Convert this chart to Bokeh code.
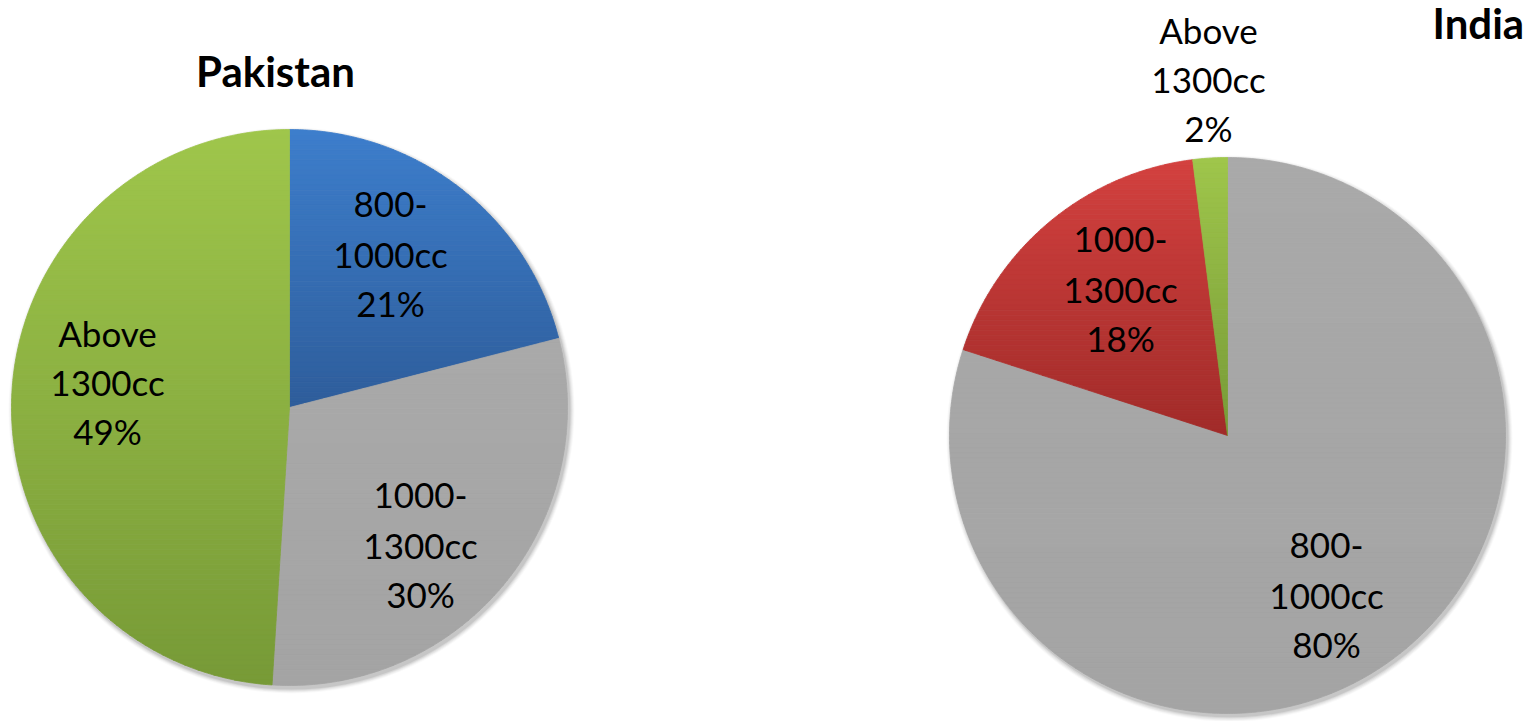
import numpy as np
from bokeh.plotting import figure
from bokeh.models import Range1d, ColumnDataSource
from bokeh.core.properties import value
from bokeh.embed import file_html
from bokeh.resources import INLINE

# Share of car sales by engine size
pakistan_categories = ["800-1000cc", "1000-1300cc", "Above 1300cc"]
pakistan_share = [21, 30, 49]
india_categories = ["800-1000cc", "1000-1300cc", "Above 1300cc"]
india_share = [80, 18, 2]

# label text split over lines: category head, category tail
label_lines = {
    "800-1000cc": ["800-", "1000cc"],
    "1000-1300cc": ["1000-", "1300cc"],
    "Above 1300cc": ["Above", "1300cc"],
}

# slice fills as (top, bottom) of a vertical gradient
BLUE = ("#3d7ecc", "#2e5d9b")
GREY = ("#a9a9a9", "#a4a4a4")
GREEN = ("#9fc64b", "#779a37")
RED = ("#d3413f", "#a12b29")

W, H = 1535, 721
FONT = "Lato"

charts = [
    dict(title="Pakistan", cats=pakistan_categories, vals=pakistan_share,
         fills=[BLUE, GREY, GREEN], cx=289, cy=407, r=278,
         title_xy=(275, 70), title_align="center",
         label_xy=[(390, 253), (420, 544), (107, 381)]),
    dict(title="India", cats=india_categories, vals=india_share,
         fills=[GREY, RED, GREEN], cx=1227, cy=435, r=278,
         title_xy=(1432, 22), title_align="left",
         label_xy=[(1326, 594), (1120, 288), (1208, 78)]),
]


def hex_rgb(h):
    h = h.lstrip("#")
    return np.array([int(h[i:i + 2], 16) for i in (0, 2, 4)], dtype=float)


def mix(c0, c1, t):
    c = hex_rgb(c0) * (1 - t) + hex_rgb(c1) * t
    return "#%02x%02x%02x" % tuple(int(round(v)) for v in c)


def wedge_points(cx, cy, r, a0, a1):
    # angles in degrees, clockwise from 12 o'clock; screen y grows downward
    n = max(4, int(abs(a1 - a0) * 2))
    th = np.radians(np.linspace(a0, a1, n))
    pts = [(cx, cy)] + [(cx + r * np.sin(t), cy - r * np.cos(t)) for t in th]
    return pts


def clip_half(poly, lim, keep_ge):
    out = []
    n = len(poly)
    for i in range(n):
        cur, prev = poly[i], poly[i - 1]
        cin = cur[1] >= lim if keep_ge else cur[1] <= lim
        pin = prev[1] >= lim if keep_ge else prev[1] <= lim
        if cin != pin:
            t = (lim - prev[1]) / (cur[1] - prev[1])
            out.append((prev[0] + t * (cur[0] - prev[0]), lim))
        if cin:
            out.append(cur)
    return out


p = figure(width=W, height=H, x_range=Range1d(0, W), y_range=Range1d(H, 0),
           output_backend="svg", toolbar_location=None,
           x_axis_location=None, y_axis_location=None, min_border=0)
p.grid.visible = False
p.outline_line_color = None
p.background_fill_color = "white"
p.border_fill_color = "white"

for ch in charts:
    cx, cy, r = ch["cx"], ch["cy"], ch["r"]

    # soft drop shadow below the pie
    for k, a in zip([5, 4, 3, 2, 1], [0.025, 0.035, 0.045, 0.06, 0.08]):
        p.circle(x=[cx + 2], y=[cy + 3], radius=r + k, fill_color="black",
                 fill_alpha=a, line_color=None)

    total = float(sum(ch["vals"]))
    start = 0.0
    xs, ys, cols = [], [], []
    for v, (top, bot) in zip(ch["vals"], ch["fills"]):
        span = 360.0 * v / total
        poly = wedge_points(cx, cy, r, start, start + span)
        start += span
        y_min = min(q[1] for q in poly)
        y_max = max(q[1] for q in poly)
        nb = max(8, int((y_max - y_min) / 5))
        edges = np.linspace(y_min, y_max, nb + 1)
        for i in range(nb):
            band = clip_half(poly, edges[i], True)
            band = clip_half(band, edges[i + 1], False) if band else band
            if len(band) < 3:
                continue
            t = (0.5 * (edges[i] + edges[i + 1]) - y_min) / (y_max - y_min)
            xs.append([q[0] for q in band])
            ys.append([q[1] for q in band])
            cols.append(mix(top, bot, t))
    src = ColumnDataSource(dict(xs=xs, ys=ys, c=cols))
    p.patches("xs", "ys", source=src, fill_color="c", line_color="c",
              line_width=0.8)

    # data labels: category over two lines, then the percentage
    tx, ty, tt = [], [], []
    for cat, v, (lx, ly) in zip(ch["cats"], ch["vals"], ch["label_xy"]):
        lines = label_lines[cat] + ["%d%%" % v]
        for j, s in enumerate(lines):
            tx.append(lx)
            ty.append(ly + (j - 1) * 49)
            tt.append(s)
    p.text(x=tx, y=ty, text=tt, text_font=value(FONT), text_font_size="35px",
           text_align="center", text_baseline="alphabetic", text_color="black")

    p.text(x=[ch["title_xy"][0]], y=[ch["title_xy"][1]], text=[ch["title"]],
           text_font=value(FONT), text_font_style="bold",
           text_font_size="42px", text_align=ch["title_align"],
           text_baseline="alphabetic", text_color="black")

open("out.html", "w").write(file_html(p, INLINE))
